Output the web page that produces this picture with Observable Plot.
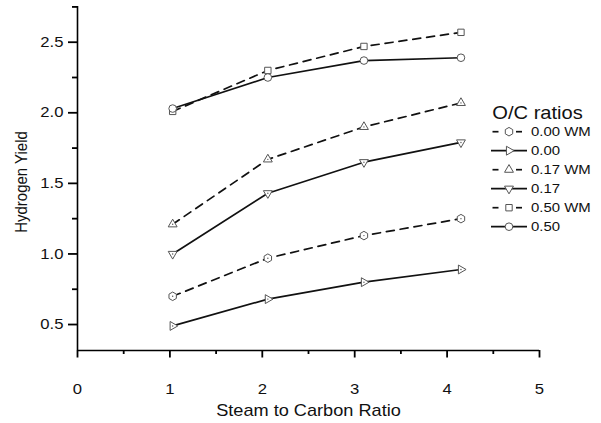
<!DOCTYPE html>
<html>
<head>
<meta charset="utf-8">
<script src="https://cdn.jsdelivr.net/npm/d3@7"></script>
<script src="https://cdn.jsdelivr.net/npm/@observablehq/plot@0.6"></script>
<style>
html, body { margin: 0; padding: 0; background: #fff; }
#chart { position: relative; width: 601px; height: 423px; font-family: "Liberation Sans", Arial, sans-serif; }
#chart svg { display: block; }
#legend { position: absolute; left: 0; top: 0; pointer-events: none; }
</style>
</head>
<body>
<div id="chart"></div>
<script>
// ---- data ----
const steamToCarbon = [1.03, 2.06, 3.10, 4.15];
const seriesNames   = ["0.00 WM", "0.00", "0.17 WM", "0.17", "0.50 WM", "0.50"];
const yield000WM = [0.70, 0.97, 1.13, 1.25];
const yield000   = [0.49, 0.68, 0.80, 0.89];
const yield017WM = [1.21, 1.67, 1.90, 2.07];
const yield017   = [1.00, 1.43, 1.65, 1.79];
const yield050WM = [2.01, 2.30, 2.47, 2.57];
const yield050   = [2.03, 2.25, 2.37, 2.39];
const seriesValues = [yield000WM, yield000, yield017WM, yield017, yield050WM, yield050];
const seriesSymbols = ["hexagon", "triangle", "triangle", "triangle", "square", "circle"];
const seriesRotate  = [0, 90, 0, 180, 0, 0];
const seriesDashed  = [true, false, true, false, true, false];
const seriesCenterDot = [true, true, true, true, false, false];
const xMajorTicks = [0, 1, 2, 3, 4, 5];
const xMinorTicks = [0.5, 1.5, 2.5, 3.5, 4.5];
const yMajorTicks = [0.5, 1.0, 1.5, 2.0, 2.5];
const yMinorTicks = [0.75, 1.25, 1.75, 2.25, 2.75];
const xTitle = "Steam to Carbon Ratio";
const yTitle = "Hydrogen Yield";
const legendTitle = "O/C ratios";

// ---- styling ----
const W = 601, H = 423;
const ink = "#111";
const markerStroke = "#555";
const stretch = 1.15; // reference text is horizontally wide
const dash = "8,6";
const markerR = {hexagon: 3.7, triangle: 3.3, square: 3.6, circle: 3.8};
const yDomain = [0.316, 2.753];

const rows = seriesNames.flatMap((name, si) =>
  steamToCarbon.map((x, i) => ({series: name, si, x, y: seriesValues[si][i]}))
);

const tickStroke = {stroke: "#000", strokeWidth: 1.8};
const marks = [
  // y ticks: zero-length rules at the axis, extended outward with negative insets
  Plot.ruleY(yMinorTicks, {y: d => d, x1: () => 0, x2: () => 0, insetLeft: -5, ...tickStroke}),
  Plot.ruleY(yMajorTicks, {y: d => d, x1: () => 0, x2: () => 0, insetLeft: -9, ...tickStroke}),
  Plot.ruleX(xMinorTicks, {x: d => d, y1: () => yDomain[0], y2: () => yDomain[0], insetBottom: -4, ...tickStroke}),
  Plot.ruleX(xMajorTicks, {x: d => d, y1: () => yDomain[0], y2: () => yDomain[0], insetBottom: -7.5, ...tickStroke}),
  Plot.axisY({ticks: yMajorTicks, tickSize: 0, tickPadding: 14, tickFormat: d3.format(".1f"), label: null, fontSize: 14.5, fill: ink}),
  Plot.axisX({ticks: xMajorTicks, tickSize: 0, tickPadding: 33, tickFormat: d3.format("d"), label: null, fontSize: 14.5, fill: ink}),
  Plot.ruleX([0], {stroke: "#000", strokeWidth: 1.6}),
  Plot.ruleY([yDomain[0]], {stroke: "#000", strokeWidth: 1.6}),
];
seriesNames.forEach((name, si) => {
  const data = rows.filter(d => d.si === si);
  marks.push(Plot.line(data, {x: "x", y: "y", stroke: "#111", strokeWidth: 1.7,
    strokeDasharray: seriesDashed[si] ? dash : null}));
});
seriesNames.forEach((name, si) => {
  const data = rows.filter(d => d.si === si);
  marks.push(Plot.dot(data, {x: "x", y: "y", symbol: seriesSymbols[si], r: markerR[seriesSymbols[si]],
    rotate: seriesRotate[si], fill: "white", stroke: markerStroke, strokeWidth: 1}));
  if (seriesCenterDot[si]) marks.push(Plot.dot(data, {x: "x", y: "y", r: 0.7, fill: markerStroke, stroke: null}));
});
marks.push(Plot.text([xTitle], {frameAnchor: "bottom", dy: 60, lineAnchor: "middle", fontSize: 15.8, fill: ink}));

const chart = Plot.plot({
  width: W, height: H,
  marginLeft: 77, marginRight: 62, marginTop: 6, marginBottom: 73,
  x: {domain: [0, 5]},
  y: {domain: yDomain},
  style: {fontFamily: "Liberation Sans, Arial, sans-serif", fontSize: "14.5px", color: ink, background: "#fff"},
  marks
});

// stretch text horizontally (about each text's own anchor)
chart.querySelectorAll("text").forEach(t => {
  const tr = t.getAttribute("transform") || "";
  t.setAttribute("transform", tr + ` scale(${stretch},1)`);
});

const root = document.getElementById("chart");
root.appendChild(chart);

// ---- overlay: y title and legend ----
const sqrt4_3 = 2 / Math.sqrt(3);
const hexagon = {draw(ctx, size) {
  const rx = Math.sqrt(size / Math.PI), ry = rx * sqrt4_3, hy = ry / 2;
  ctx.moveTo(0, ry); ctx.lineTo(rx, hy); ctx.lineTo(rx, -hy);
  ctx.lineTo(0, -ry); ctx.lineTo(-rx, -hy); ctx.lineTo(-rx, hy); ctx.closePath();
}};
const symbolType = {hexagon, triangle: d3.symbolTriangle, square: d3.symbolSquare, circle: d3.symbolCircle};

const lg = d3.select(root).append("svg").attr("id", "legend").attr("width", W).attr("height", H)
  .style("font-family", "Liberation Sans, Arial, sans-serif");

lg.append("text").attr("transform", `translate(21,182) rotate(-90) scale(1,${stretch})`)
  .attr("text-anchor", "middle").attr("dy", "0.35em").attr("font-size", 15).attr("fill", ink).text(yTitle);

const lx0 = 491, lx1 = 527, lmx = 509, ltx = 531, ly0 = 131.7, lstep = 19;
lg.append("text").attr("transform", `translate(492.3,113.3) scale(${stretch},1)`).attr("dy", "0.35em")
  .attr("font-size", 17.5).attr("fill", ink).text(legendTitle);
seriesNames.forEach((name, si) => {
  const y = ly0 + si * lstep;
  const g = lg.append("g");
  if (seriesDashed[si]) {
    g.append("line").attr("x1", lx0 + 1.5).attr("x2", lx0 + 7.5).attr("y1", y).attr("y2", y).attr("stroke", "#111").attr("stroke-width", 1.7);
    g.append("line").attr("x1", lx1 - 11).attr("x2", lx1 - 5).attr("y1", y).attr("y2", y).attr("stroke", "#111").attr("stroke-width", 1.7);
  } else {
    g.append("line").attr("x1", lx0).attr("x2", lx1).attr("y1", y).attr("y2", y).attr("stroke", "#111").attr("stroke-width", 1.7);
  }
  const r = markerR[seriesSymbols[si]];
  g.append("path")
    .attr("d", d3.symbol(symbolType[seriesSymbols[si]], Math.PI * r * r)())
    .attr("transform", `translate(${lmx},${y}) rotate(${seriesRotate[si]})`)
    .attr("fill", "white").attr("stroke", markerStroke).attr("stroke-width", 1);
  g.append("text").attr("transform", `translate(${ltx},${y}) scale(${stretch},1)`).attr("dy", "0.35em")
    .attr("font-size", 13).attr("fill", ink).text(name);
});
</script>
</body>
</html>
